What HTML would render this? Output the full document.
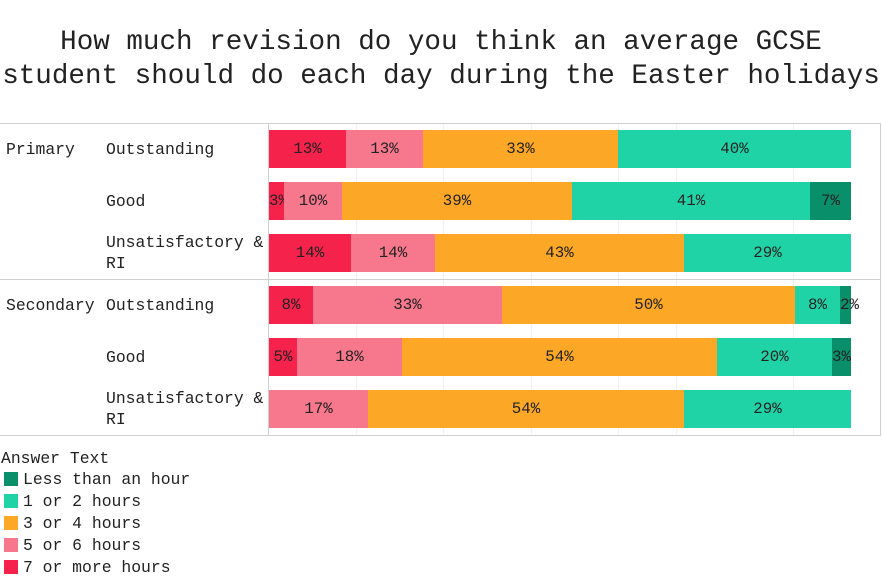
<!DOCTYPE html>
<html><head><style>
body{margin:0;width:882px;height:579px;background:#fff;position:relative;overflow:hidden;font-family:"Liberation Mono",monospace;color:#222}
.t{position:absolute;left:0;width:882px;text-align:center;font-size:27.6px;line-height:34px}
.l{position:absolute;font-size:16.4px;line-height:21px;white-space:nowrap}
.s{position:absolute;height:38px;font-size:15.8px;line-height:38px;text-align:center;color:#222;overflow:visible;white-space:nowrap}
.a{background:#f5234b}.b{background:#f7788c}.c{background:#fca826}.d{background:#20d3a7}.e{background:#09906b}
.hl{position:absolute;height:1px;background:#d0d0d0}
.g{position:absolute;width:1px;background:#f0f0f0;top:124px;height:311px}
.sq{position:absolute;left:4px;width:14px;height:14px}
</style></head><body>
<div class="t" style="top:26px">How much revision do you think an average GCSE</div>
<div class="t" style="top:60px">student should do each day during the Easter holidays</div>
<div class="g" style="left:356px"></div><div class="g" style="left:443px"></div><div class="g" style="left:531px"></div><div class="g" style="left:618px"></div><div class="g" style="left:676px"></div><div class="g" style="left:793px"></div>
<div class="hl" style="left:0;top:123px;width:881px"></div>
<div class="hl" style="left:0;top:279px;width:881px"></div>
<div class="hl" style="left:0;top:435px;width:881px"></div>
<div style="position:absolute;left:268px;top:123px;width:1px;height:313px;background:#d0d0d0"></div>
<div style="position:absolute;left:880px;top:123px;width:1px;height:313px;background:#d0d0d0"></div>
<div class="l" style="left:6px;top:139px">Primary</div>
<div class="l" style="left:6px;top:295px">Secondary</div>
<div class="l" style="left:106px;top:139px">Outstanding</div>
<div class="l" style="left:106px;top:191px">Good</div>
<div class="l" style="left:106px;top:232px">Unsatisfactory &amp;<br>RI</div>
<div class="l" style="left:106px;top:295px">Outstanding</div>
<div class="l" style="left:106px;top:347px">Good</div>
<div class="l" style="left:106px;top:388px">Unsatisfactory &amp;<br>RI</div>

<div class="s a" style="top:130px;left:269px;width:77px">13%</div>
<div class="s b" style="top:130px;left:346px;width:77px">13%</div>
<div class="s c" style="top:130px;left:423px;width:195px">33%</div>
<div class="s d" style="top:130px;left:618px;width:233px">40%</div>

<div class="s a" style="top:182px;left:269px;width:15px">3%</div>
<div class="s b" style="top:182px;left:284px;width:58px">10%</div>
<div class="s c" style="top:182px;left:342px;width:230px">39%</div>
<div class="s d" style="top:182px;left:572px;width:238px">41%</div>
<div class="s e" style="top:182px;left:810px;width:41px">7%</div>

<div class="s a" style="top:234px;left:269px;width:82px">14%</div>
<div class="s b" style="top:234px;left:351px;width:84px">14%</div>
<div class="s c" style="top:234px;left:435px;width:249px">43%</div>
<div class="s d" style="top:234px;left:684px;width:167px">29%</div>

<div class="s a" style="top:286px;left:269px;width:44px">8%</div>
<div class="s b" style="top:286px;left:313px;width:189px">33%</div>
<div class="s c" style="top:286px;left:502px;width:293px">50%</div>
<div class="s d" style="top:286px;left:795px;width:45px">8%</div>
<div class="s e" style="top:286px;left:840px;width:11px">2%</div>

<div class="s a" style="top:338px;left:269px;width:28px">5%</div>
<div class="s b" style="top:338px;left:297px;width:105px">18%</div>
<div class="s c" style="top:338px;left:402px;width:315px">54%</div>
<div class="s d" style="top:338px;left:717px;width:115px">20%</div>
<div class="s e" style="top:338px;left:832px;width:19px">3%</div>

<div class="s b" style="top:390px;left:269px;width:99px">17%</div>
<div class="s c" style="top:390px;left:368px;width:316px">54%</div>
<div class="s d" style="top:390px;left:684px;width:167px">29%</div>

<div class="l" style="left:1px;top:448px">Answer Text</div>
<div class="sq e" style="top:472px"></div><div class="l" style="left:23px;top:469px">Less than an hour</div>
<div class="sq d" style="top:494px"></div><div class="l" style="left:23px;top:491px">1 or 2 hours</div>
<div class="sq c" style="top:516px"></div><div class="l" style="left:23px;top:513px">3 or 4 hours</div>
<div class="sq b" style="top:538px"></div><div class="l" style="left:23px;top:535px">5 or 6 hours</div>
<div class="sq a" style="top:560px"></div><div class="l" style="left:23px;top:557px">7 or more hours</div>
</body></html>
